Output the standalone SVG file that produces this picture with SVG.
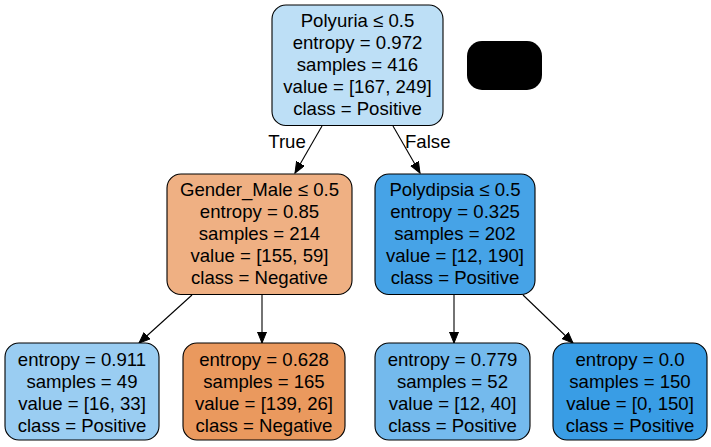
<svg xmlns="http://www.w3.org/2000/svg" width="711" height="447" viewBox="0 0 711 447">
<style>
.n{stroke:#000;stroke-width:1.1}
text{font-family:"Liberation Sans",Arial,Helvetica,sans-serif;font-size:18.6px;fill:#000;text-anchor:middle}
.e{stroke:#000;stroke-width:1.1;fill:none;marker-end:url(#ah)}
</style>
<defs>
<marker id="ah" markerUnits="userSpaceOnUse" markerWidth="12" markerHeight="10" refX="11" refY="4.5" orient="auto">
<path d="M0,0 L11,4.5 L0,9 z" fill="#000" stroke="#000" stroke-width="1"/>
</marker>
</defs>
<rect width="711" height="447" fill="#fff"/>
<g id="edges">
<line class="e" x1="322" y1="126" x2="295" y2="173"/>
<line class="e" x1="393" y1="126" x2="420" y2="173"/>
<line class="e" x1="192" y1="295" x2="139" y2="343"/>
<line class="e" x1="262" y1="295" x2="262" y2="343"/>
<line class="e" x1="454" y1="295" x2="454" y2="343"/>
<line class="e" x1="523" y1="295" x2="573" y2="343"/>
<text x="287" y="148">True</text>
<text x="405" y="148" style="text-anchor:start">False</text>
</g>
<g id="node0">
<rect class="n" x="272" y="5" width="171" height="120.5" rx="14" fill="#bddff6"/>
<text x="357.5" y="27">Polyuria ≤ 0.5</text>
<text x="357.5" y="49">entropy = 0.972</text>
<text x="357.5" y="71">samples = 416</text>
<text x="357.5" y="93">value = [167, 249]</text>
<text x="357.5" y="115">class = Positive</text>
</g>
<g id="legend">
<rect x="467" y="41" width="75" height="49" rx="15" fill="#000"/>
</g>
<g id="node1">
<rect class="n" x="167" y="174" width="185" height="120.5" rx="14" fill="#efb083"/>
<text x="259.5" y="196">Gender_Male ≤ 0.5</text>
<text x="259.5" y="218">entropy = 0.85</text>
<text x="259.5" y="240">samples = 214</text>
<text x="259.5" y="262">value = [155, 59]</text>
<text x="259.5" y="284">class = Negative</text>
</g>
<g id="node4">
<rect class="n" x="375" y="174" width="160" height="120.5" rx="14" fill="#46a3e7"/>
<text x="455" y="196">Polydipsia ≤ 0.5</text>
<text x="455" y="218">entropy = 0.325</text>
<text x="455" y="240">samples = 202</text>
<text x="455" y="262">value = [12, 190]</text>
<text x="455" y="284">class = Positive</text>
</g>
<g id="node2">
<rect class="n" x="5" y="343" width="154" height="97" rx="14" fill="#9acdf2"/>
<text x="82" y="366">entropy = 0.911</text>
<text x="82" y="388">samples = 49</text>
<text x="82" y="410">value = [16, 33]</text>
<text x="82" y="432">class = Positive</text>
</g>
<g id="node3">
<rect class="n" x="183" y="343" width="162" height="97" rx="14" fill="#ea995e"/>
<text x="264" y="366">entropy = 0.628</text>
<text x="264" y="388">samples = 165</text>
<text x="264" y="410">value = [139, 26]</text>
<text x="264" y="432">class = Negative</text>
</g>
<g id="node5">
<rect class="n" x="375" y="343" width="155" height="97" rx="14" fill="#74baed"/>
<text x="452.5" y="366">entropy = 0.779</text>
<text x="452.5" y="388">samples = 52</text>
<text x="452.5" y="410">value = [12, 40]</text>
<text x="452.5" y="432">class = Positive</text>
</g>
<g id="node6">
<rect class="n" x="553" y="343" width="154" height="97" rx="14" fill="#399de5"/>
<text x="630" y="366">entropy = 0.0</text>
<text x="630" y="388">samples = 150</text>
<text x="630" y="410">value = [0, 150]</text>
<text x="630" y="432">class = Positive</text>
</g>
</svg>
